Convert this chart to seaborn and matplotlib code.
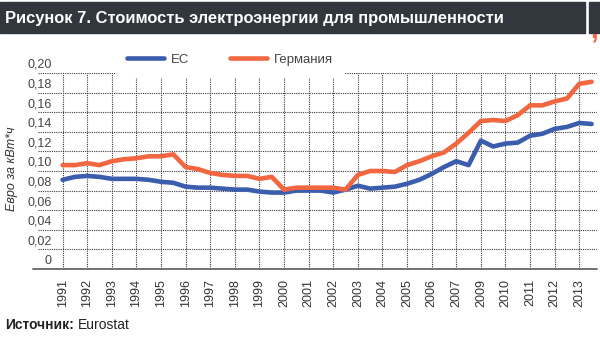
import numpy as np
import pandas as pd
import matplotlib
matplotlib.use("Agg")
import matplotlib.pyplot as plt
import seaborn as sns
from matplotlib.transforms import ScaledTranslation
from matplotlib.patches import Rectangle
from matplotlib.lines import Line2D

# ---------------- data ----------------
periods = [1991.0, 1991.5, 1992.0, 1992.5, 1993.0, 1993.5, 1994.0, 1994.5,
           1995.0, 1995.5, 1996.0, 1996.5, 1997.0, 1997.5, 1998.0, 1998.5,
           1999.0, 1999.5, 2000.0, 2000.5, 2001.0, 2001.5, 2002.0, 2002.5,
           2003.0, 2003.5, 2004.0, 2004.5, 2005.0, 2005.5, 2006.0, 2006.5,
           2007.0, 2007.5, 2008.0, 2008.5, 2009.0, 2009.5, 2010.0, 2010.5,
           2011.0, 2011.5, 2012.0, 2012.5]

eu = [0.091, 0.094, 0.095, 0.094, 0.092, 0.092, 0.092, 0.091,
      0.089, 0.088, 0.084, 0.083, 0.083, 0.082, 0.081, 0.081,
      0.079, 0.078, 0.078, 0.080, 0.080, 0.080, 0.078, 0.081,
      0.085, 0.082, 0.083, 0.084, 0.087, 0.091, 0.097, 0.104,
      0.110, 0.106, 0.131, 0.125, 0.128, 0.129, 0.136, 0.138,
      0.143, 0.145, 0.149, 0.148]

germany = [0.106, 0.106, 0.108, 0.106, 0.110, 0.112, 0.113, 0.115,
           0.115, 0.117, 0.104, 0.102, 0.098, 0.096, 0.095, 0.095,
           0.092, 0.094, 0.081, 0.083, 0.083, 0.083, 0.083, 0.081,
           0.096, 0.100, 0.100, 0.099, 0.106, 0.110, 0.115, 0.119,
           0.128, 0.139, 0.151, 0.152, 0.151, 0.157, 0.167, 0.167,
           0.171, 0.174, 0.189, 0.191]

series_names = ["ЕС", "Германия"]

x_tick_labels = ["1991", "1992", "1993", "1994", "1995", "1996", "1997",
                 "1998", "1999", "2000", "2001", "2002", "2003", "2004",
                 "2005", "2006", "2007", "2009", "2010", "2011", "2012",
                 "2013"]
y_tick_values = [0, 0.02, 0.04, 0.06, 0.08, 0.10, 0.12, 0.14, 0.16, 0.18, 0.20]
y_tick_labels = ["0", "0,02", "0,04", "0,06", "0,08", "0,10", "0,12",
                 "0,14", "0,16", "0,18", "0,20"]

title = "Рисунок 7. Стоимость электроэнергии для промышленности"
y_label = "Евро за кВт*ч"
source_bold = "Источник:"
source_text = "Eurostat"

# ---------------- style ----------------
BLUE = "#3A5DAE"
ORANGE = "#F26640"
DARK = "#32373D"

sns.set_theme(style="white")
plt.rcParams["font.family"] = ["Liberation Sans", "DejaVu Sans"]

W, H = 600, 337
fig = plt.figure(figsize=(W / 100, H / 100), dpi=100)
fig.patch.set_facecolor("white")

ax = fig.add_axes([38 / W, 68 / H, (597 - 38) / W, (269 - 73) / H])
ax.set_facecolor("white")

df = pd.DataFrame({
    "period": periods + periods,
    "value": eu + germany,
    "series": [series_names[0]] * len(eu) + [series_names[1]] * len(germany),
})

sns.lineplot(data=df, x="period", y="value", hue="series",
             palette={series_names[0]: BLUE, series_names[1]: ORANGE},
             linewidth=3.3, ax=ax, legend=False, zorder=3)

ax.set_xlim(1990.0, 2012.72)
ax.set_ylim(0, 0.20)
ax.set_xticks(np.arange(1991, 1991 + len(x_tick_labels)))
ax.set_xticklabels(x_tick_labels, rotation=90, fontsize=9, color="#333333")
ax.set_yticks(y_tick_values)
ax.set_yticklabels(y_tick_labels, fontsize=9, color="#444444")
ax.set_xlabel("")
ax.set_ylabel("")
ax.tick_params(axis="x", length=0, pad=7)
ax.tick_params(axis="y", length=0, pad=-10)
offset = ScaledTranslation(0, 9.6 / 100, fig.dpi_scale_trans)
for lbl in ax.get_yticklabels():
    lbl.set_transform(lbl.get_transform() + offset)

ax.set_axisbelow(True)
ax.grid(True, which="major", linestyle=(0, (1, 1)), color="#3a3a3a",
        linewidth=0.8)
for s in ["top", "right", "left", "bottom"]:
    ax.spines[s].set_visible(False)

# axis base line
fig.add_artist(Line2D([33 / W, 597 / W], [1 - 269 / H, 1 - 269 / H],
                      color="#666666", linewidth=1.3,
                      transform=fig.transFigure))

# legend
handles = [Line2D([0], [0], color=BLUE, lw=3.3),
           Line2D([0], [0], color=ORANGE, lw=3.3)]
leg = ax.legend(handles, series_names, loc="center",
                bbox_to_anchor=(230 / W, 1 - 60 / H),
                bbox_transform=fig.transFigure, ncol=2, frameon=True,
                facecolor="white", edgecolor="none", framealpha=1,
                fontsize=9.5, handlelength=2.8, handletextpad=0.5,
                columnspacing=3.1, borderpad=0.9, fancybox=False)
for t in leg.get_texts():
    t.set_color("#444444")
leg.set_zorder(5)

# y label
fig.text(12 / W, 1 - 169 / H, y_label, rotation=90, style="italic",
         ha="center", va="center", fontsize=9, color="#333333")

# title bar
fig.patches.append(Rectangle((0, 1 - 33 / H), 585 / W, 31 / H,
                             transform=fig.transFigure, color=DARK,
                             zorder=0))
fig.patches.append(Rectangle((589 / W, 1 - 33 / H), 11 / W, 31 / H,
                             transform=fig.transFigure, color=DARK,
                             zorder=0))
fig.text(5 / W, 1 - 18 / H, title, color="white", fontweight="bold",
         fontsize=11.9, ha="left", va="center")
fig.text(594 / W, 1 - 30 / H, ",", color=ORANGE, fontweight="bold",
         fontsize=20, ha="center", va="center")

# source
renderer = fig.canvas.get_renderer()
t1 = fig.text(5 / W, 1 - 325 / H, source_bold, fontweight="bold",
              fontsize=10, color="#222222", ha="left", va="center")
bb = t1.get_window_extent(renderer=renderer)
fig.text((bb.x1 + 4) / W, 1 - 325 / H, source_text, fontsize=10,
         color="#222222", ha="left", va="center")

fig.savefig("out.png", dpi=100)
